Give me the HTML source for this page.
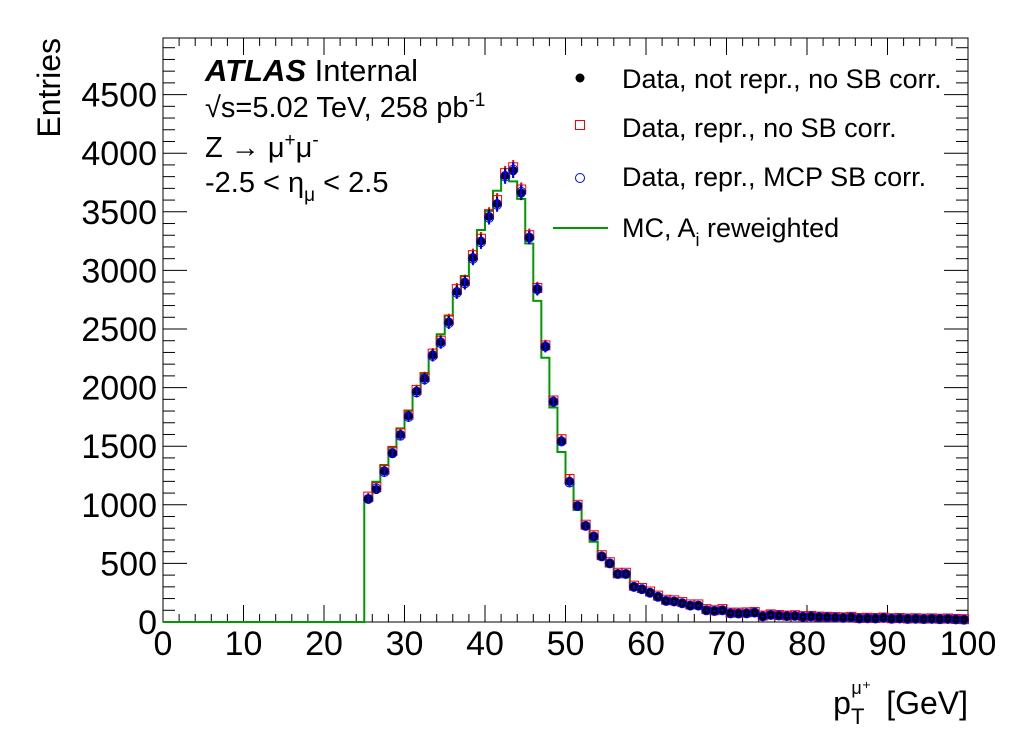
<!DOCTYPE html>
<html><head><meta charset="utf-8"><style>
html,body{margin:0;padding:0;background:#fff;}
svg{display:block;font-family:"Liberation Sans",sans-serif;}
</style></head><body>
<svg id="c" width="1020" height="740">
<rect width="1020" height="740" fill="#fff"/>
</svg>
<script>
const binLow = 25;
const dataBlack = [1050,1130,1290,1440,1600,1760,1970,2080,2280,2390,2560,2820,2900,3110,3250,3460,3570,3810,3850,3660,3280,2840,2350,1880,1545,1200,990,820,730,560,500,410,410,300,280,250,215,180,175,160,140,140,102,94,102,74,72,74,80,48,60,55,50,52,45,48,42,40,38,35,40,30,32,30,35,28,30,26,28,25,27,24,26,22,20];
const dataRed = [1070,1150,1300,1460,1610,1770,1980,2090,2290,2400,2580,2840,2910,3130,3270,3480,3600,3830,3880,3690,3300,2850,2360,1890,1560,1220,1000,830,740,570,510,420,420,310,290,260,225,190,185,170,150,150,110,100,110,80,80,82,85,55,65,60,55,58,50,52,46,44,42,40,44,34,36,34,38,32,34,30,32,29,31,28,30,26,24];
const dataBlue = [1050,1140,1280,1440,1590,1750,1960,2070,2270,2380,2550,2810,2890,3100,3240,3450,3560,3800,3860,3670,3280,2840,2350,1880,1540,1190,990,820,730,560,500,410,410,300,280,250,215,180,175,160,140,140,100,94,100,74,72,74,80,48,60,55,50,52,45,48,42,40,38,35,40,30,32,30,35,28,30,26,28,25,27,24,26,22,20];
const mcValues = [1032,1197,1340,1490,1652,1803,1960,2116,2264,2455,2614,2799,2952,3131,3345,3507,3680,3800,3760,3610,3230,2740,2255,1830,1450,1183,956,808,685,543,472,381,381,301,281,250,205,170,165,150,130,128,96,90,95,70,68,70,72,45,56,52,48,48,42,44,40,38,36,33,36,28,30,28,32,26,28,24,26,23,25,22,24,20,19];
const xTicks = [0,10,20,30,40,50,60,70,80,90,100];
const yTicks = [0,500,1000,1500,2000,2500,3000,3500,4000,4500];

const NS="http://www.w3.org/2000/svg";
const svg=document.getElementById('c');
const L=163,R=968,T=38,B=622,XMAX=100,YMAX=(B-T)/0.1172;
const X=v=>L+(v/XMAX)*(R-L);
const Y=v=>B-(v/YMAX)*(B-T);
function el(tag,attrs,parent){const e=document.createElementNS(NS,tag);for(const k in attrs)e.setAttribute(k,attrs[k]);(parent||svg).appendChild(e);return e;}

const frame=el('rect',{x:L,y:T,width:R-L,height:B-T,fill:'none',stroke:'#000','stroke-width':1});



const xg=el('g',{});


for(let v=0;v<=100;v+=2){
  const major=v%10===0;
  const len=major?17:8;
  el('line',{x1:X(v),x2:X(v),y1:B,y2:B-len,stroke:'#000'},xg);
  el('line',{x1:X(v),x2:X(v),y1:T,y2:T+len,stroke:'#000'},xg);
}
xTicks.forEach(v=>{
  const t=el('text',{x:X(v),y:655,'font-size':34,'text-anchor':'middle',fill:'#000'},xg);
  t.textContent=v;
  
  
});
const yg=el('g',{});


for(let v=0;v<=YMAX;v+=100){
  const major=v%500===0;
  const len=major?24:12;
  el('line',{x1:L,x2:L+len,y1:Y(v),y2:Y(v),stroke:'#000'},yg);
  el('line',{x1:R,x2:R-len,y1:Y(v),y2:Y(v),stroke:'#000'},yg);
}
yTicks.forEach(v=>{
  const t=el('text',{x:157,y:Y(v)+12,'font-size':34,'text-anchor':'end',fill:'#000'},yg);
  t.textContent=v;
  
  
});

let d=`M${L},${Y(0)} L${X(binLow)},${Y(0)}`;
mcValues.forEach((v,i)=>{d+=` L${X(binLow+i)},${Y(v)} L${X(binLow+i+1)},${Y(v)}`;});
const mc=el('path',{d:d,fill:'none',stroke:'#009900','stroke-width':2});



function drawSeries(arr,kind,name){
  const g=el('g',{});
  
  
  const col=kind==='black'?'#000':kind==='red'?'#f00':'#00f';
  arr.forEach((v,i)=>{
    const cx=X(binLow+i+0.5),cy=Y(v),err=Math.sqrt(v)*0.1172;
    el('line',{x1:cx,x2:cx,y1:cy-err,y2:cy+err,stroke:col,'stroke-width':2},g);
    let m;
    if(kind==='black')m=el('circle',{cx:cx,cy:cy,r:4.5,fill:'#000'},g);
    else if(kind==='red')m=el('rect',{x:cx-4.5,y:cy-4.5,width:9,height:9,fill:'none',stroke:'#f00'},g);
    else m=el('circle',{cx:cx,cy:cy,r:4.5,fill:'none',stroke:'#00f'},g);
    
    
  });
}
drawSeries(dataRed,'red','series-repr-no-sb');
drawSeries(dataBlack,'black','series-not-repr');
drawSeries(dataBlue,'blue','series-repr-mcp-sb');
</script>
<svg style="position:absolute;left:0;top:0" width="1020" height="740">
<g font-family="Liberation Sans, sans-serif" fill="#000">
<text x="60" y="38" font-size="32" transform="rotate(-90 60 38)" text-anchor="end">Entries</text>
<text x="968" y="714" font-size="32" text-anchor="end">p<tspan font-size="22" dy="10">T</tspan><tspan font-size="18" dy="-30" dx="-13">μ⁺</tspan><tspan dy="20" dx="6"> [GeV]</tspan></text>
<text x="205" y="81" font-size="31"><tspan font-weight="bold" font-style="italic">ATLAS</tspan> Internal</text>
<text x="205" y="117" font-size="29">√s=5.02 TeV, 258 pb<tspan font-size="19" dy="-11">-1</tspan></text>
<text x="205" y="157" font-size="29">Z → μ<tspan font-size="19" dy="-11">+</tspan><tspan dy="11">μ</tspan><tspan font-size="19" dy="-11">-</tspan></text>
<text x="205" y="192" font-size="29">-2.5 &lt; η<tspan font-size="19" dy="9">μ</tspan><tspan dy="-9"> &lt; 2.5</tspan></text>
</g>
<g font-family="Liberation Sans, sans-serif" font-size="27" fill="#000">
<circle cx="580" cy="78" r="4.5" fill="#000"/>
<text x="622" y="88">Data, not repr., no SB corr.</text>
<rect x="575.5" y="120.5" width="9" height="9" fill="none" stroke="#f00"/>
<text x="622" y="137">Data, repr., no SB corr.</text>
<circle cx="580" cy="178" r="4.5" fill="none" stroke="#00f"/>
<text x="622" y="186">Data, repr., MCP SB corr.</text>
<line x1="553" x2="608" y1="228" y2="228" stroke="#009900" stroke-width="2"/>
<text x="622" y="237">MC, A<tspan font-size="18" dy="9">i</tspan><tspan dy="-9"> reweighted</tspan></text>
</g>
</svg>
</body></html>
